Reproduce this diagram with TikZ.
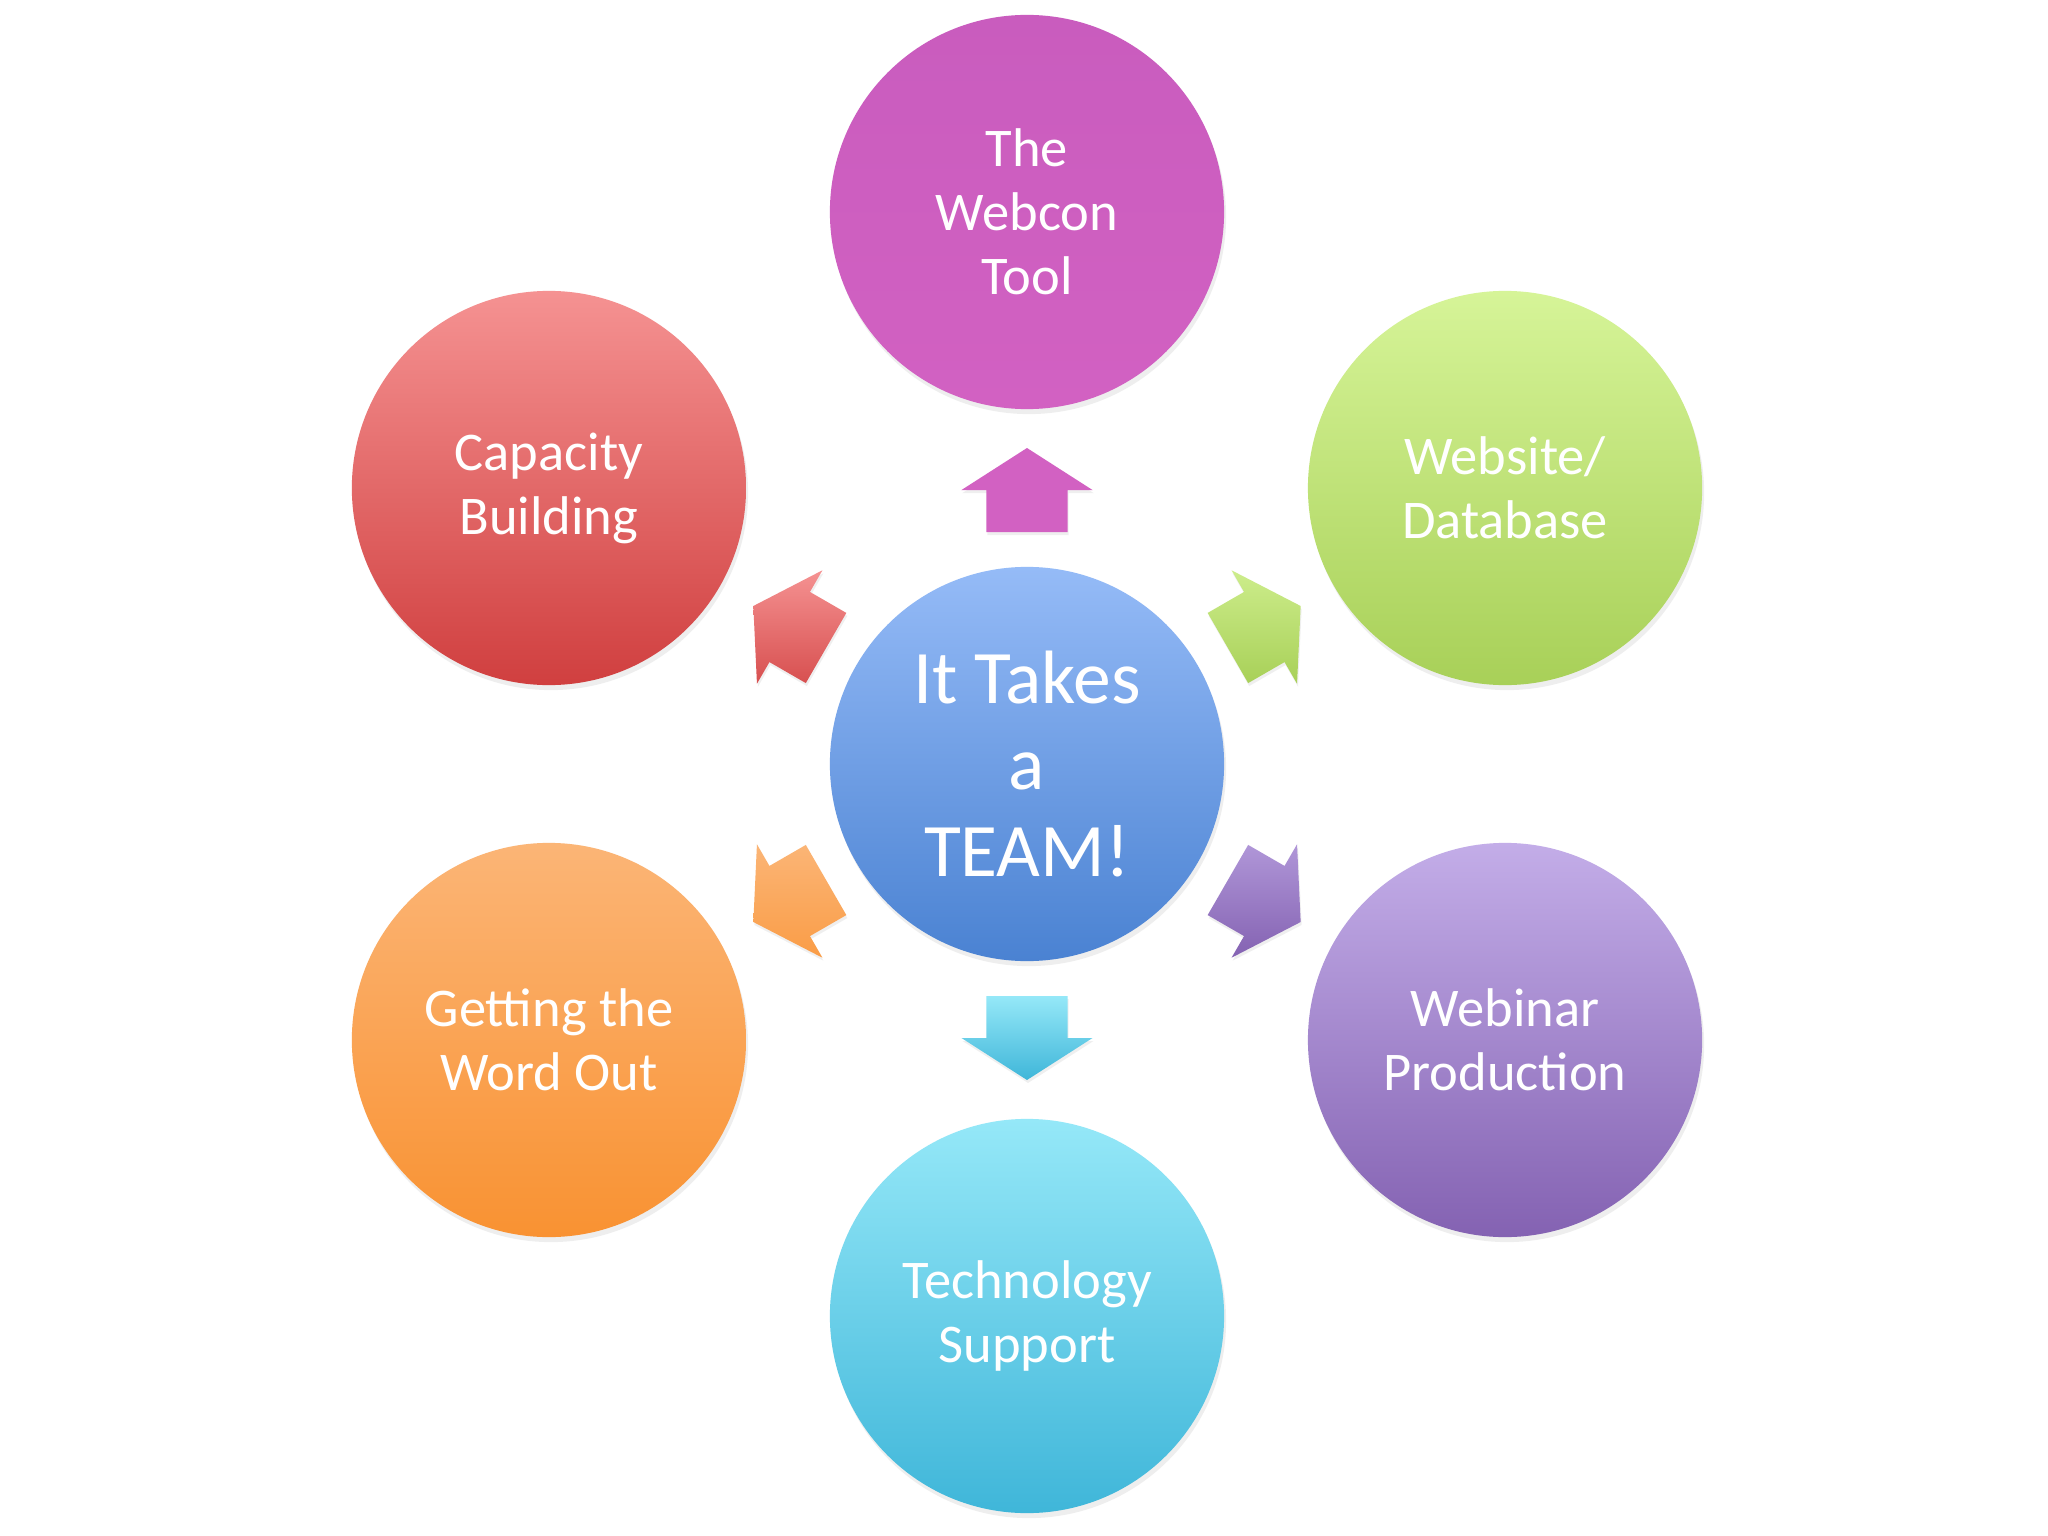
\documentclass[tikz,border=0pt]{standalone}
\usepackage{fontspec}
\setmainfont{Carlito}
\usetikzlibrary{calc,shadows}

\definecolor{teamTop}{HTML}{95BBF7}
\definecolor{teamBot}{HTML}{4A82D2}
\definecolor{webconTop}{HTML}{C95CBE}
\definecolor{webconBot}{HTML}{D261C2}
\definecolor{webTop}{HTML}{D6F498}
\definecolor{webBot}{HTML}{A8D058}
\definecolor{webinarTop}{HTML}{C3ADE8}
\definecolor{webinarBot}{HTML}{8462B2}
\definecolor{techTop}{HTML}{95E8F8}
\definecolor{techBot}{HTML}{3FB6D9}
\definecolor{wordTop}{HTML}{FBB576}
\definecolor{wordBot}{HTML}{F99232}
\definecolor{capTop}{HTML}{F59292}
\definecolor{capBot}{HTML}{D03F3F}

\begin{document}
\begin{tikzpicture}[x=0.01cm,y=0.01cm,
    bubble/.style={circle,minimum size=3.94cm,inner sep=0pt,align=center,text=white,
      font=\fontsize{15.5}{18.2}\selectfont,
      drop shadow={opacity=0.13,shadow xshift=0.02cm,shadow yshift=-0.05cm}},
    arrowshadow/.style={drop shadow={opacity=0.12,shadow xshift=0.01cm,shadow yshift=-0.03cm}}]
  \fill[white] (-1027,-772) rectangle (1021,764);
  \useasboundingbox (-1027,-772) rectangle (1021,764);

  % centre and the six team parts
  \node[bubble,top color=teamTop,bottom color=teamBot,
    font=\fontsize{21.5}{24.6}\selectfont] (team) at (0,0) {It Takes\\a\\TEAM!};
  \node[bubble,top color=webconTop,bottom color=webconBot] (webcon) at (90:552) {The\\Webcon\\Tool};
  \node[bubble,top color=webTop,bottom color=webBot] (website) at (30:552) {Website/\\Database};
  \node[bubble,top color=webinarTop,bottom color=webinarBot] (webinar) at (-30:552) {Webinar\\Production};
  \node[bubble,top color=techTop,bottom color=techBot] (tech) at (-90:552) {Technology\\Support};
  \node[bubble,top color=wordTop,bottom color=wordBot] (word) at (-150:552) {Getting the\\Word Out};
  \node[bubble,top color=capTop,bottom color=capBot] (capacity) at (150:552) {Capacity\\Building};

  % block arrows out of the centre
  \foreach \a/\ca/\cb in {90/webconBot/webconBot, 30/webTop!80!webBot/webBot,
      -30/webinarTop!70!webinarBot/webinarBot, -90/techTop/techBot,
      -150/wordTop/wordBot!70!wordTop, 150/capTop/capBot!80!capTop}
    \path[top color=\ca,bottom color=\cb,arrowshadow]
      ($(team)+(\a:232)+(\a-90:40.5)$) -- ($(team)+(\a:274)+(\a-90:40.5)$)
      -- ($(team)+(\a:274)+(\a-90:65.5)$) -- ($(team)+(\a:316)$)
      -- ($(team)+(\a:274)+(\a+90:65.5)$) -- ($(team)+(\a:274)+(\a+90:40.5)$)
      -- ($(team)+(\a:232)+(\a+90:40.5)$) -- cycle;
\end{tikzpicture}
\end{document}
